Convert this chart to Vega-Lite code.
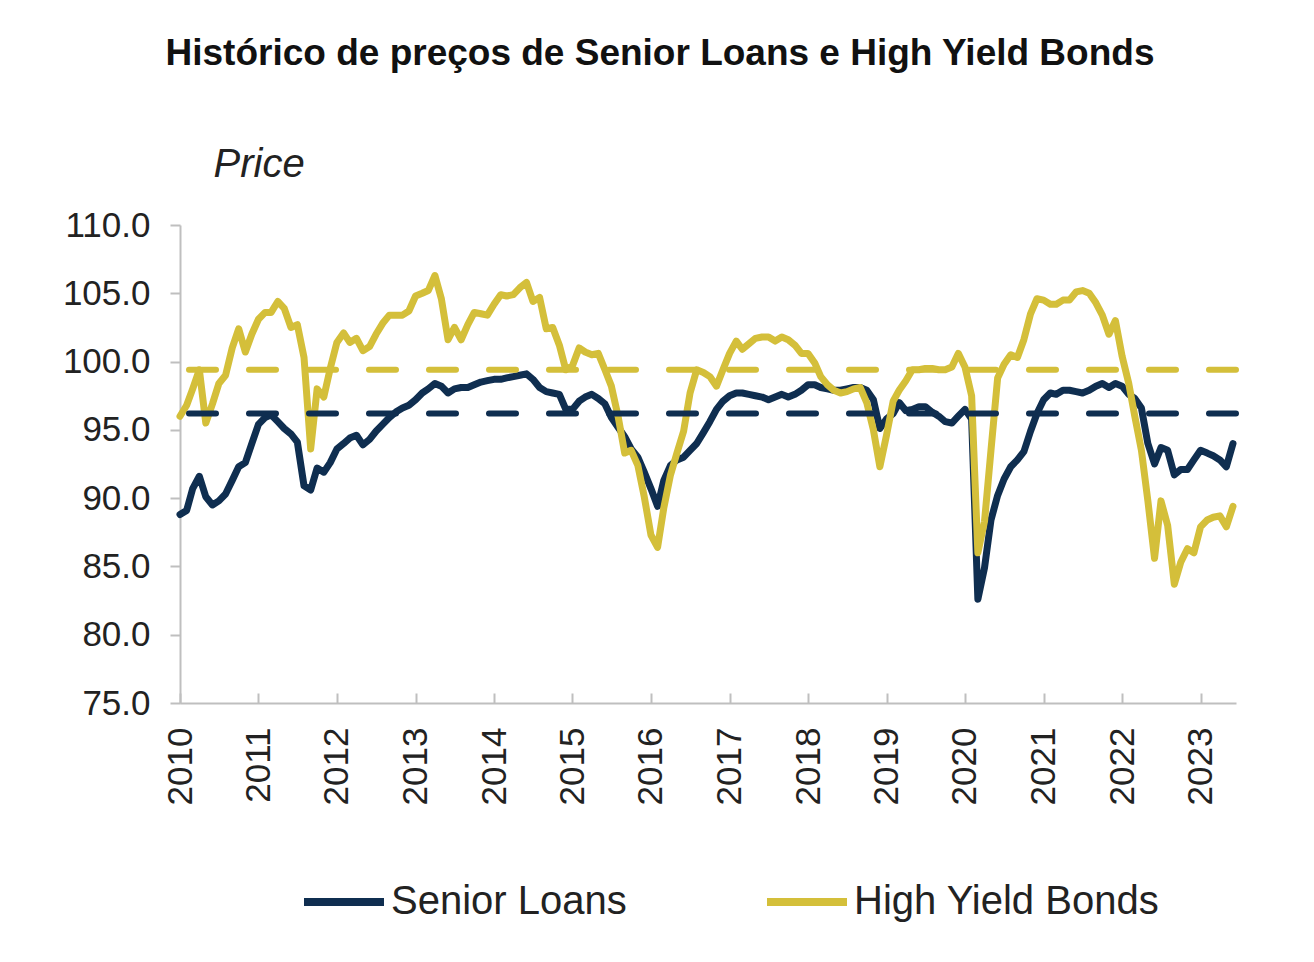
{
  "$schema": "https://vega.github.io/schema/vega-lite/v6.json",
  "width": 1056,
  "height": 478,
  "autosize": {"type": "none"},
  "padding": {"left": 180, "top": 225, "right": 78, "bottom": 259},
  "background": "white",
  "title": {
    "text": "Histórico de preços de Senior Loans e High Yield Bonds",
    "font": "Liberation Sans",
    "fontSize": 37,
    "fontWeight": "bold",
    "color": "#111111",
    "anchor": "middle",
    "frame": "group",
    "dx": -48,
    "offset": 71
  },
  "datasets": {
    "prices": [
      {"date": "2010-01-01", "series": "Senior Loans", "price": 88.8},
      {"date": "2010-02-01", "series": "Senior Loans", "price": 89.1},
      {"date": "2010-03-01", "series": "Senior Loans", "price": 90.7},
      {"date": "2010-04-01", "series": "Senior Loans", "price": 91.6},
      {"date": "2010-05-01", "series": "Senior Loans", "price": 90.1},
      {"date": "2010-06-01", "series": "Senior Loans", "price": 89.5},
      {"date": "2010-07-01", "series": "Senior Loans", "price": 89.8},
      {"date": "2010-08-01", "series": "Senior Loans", "price": 90.3},
      {"date": "2010-09-01", "series": "Senior Loans", "price": 91.3},
      {"date": "2010-10-01", "series": "Senior Loans", "price": 92.3},
      {"date": "2010-11-01", "series": "Senior Loans", "price": 92.6},
      {"date": "2010-12-01", "series": "Senior Loans", "price": 94.0},
      {"date": "2011-01-01", "series": "Senior Loans", "price": 95.4},
      {"date": "2011-02-01", "series": "Senior Loans", "price": 95.9},
      {"date": "2011-03-01", "series": "Senior Loans", "price": 96.1},
      {"date": "2011-04-01", "series": "Senior Loans", "price": 95.6},
      {"date": "2011-05-01", "series": "Senior Loans", "price": 95.1},
      {"date": "2011-06-01", "series": "Senior Loans", "price": 94.7},
      {"date": "2011-07-01", "series": "Senior Loans", "price": 94.1},
      {"date": "2011-08-01", "series": "Senior Loans", "price": 90.9},
      {"date": "2011-09-01", "series": "Senior Loans", "price": 90.6},
      {"date": "2011-10-01", "series": "Senior Loans", "price": 92.2},
      {"date": "2011-11-01", "series": "Senior Loans", "price": 91.9},
      {"date": "2011-12-01", "series": "Senior Loans", "price": 92.6},
      {"date": "2012-01-01", "series": "Senior Loans", "price": 93.6},
      {"date": "2012-02-01", "series": "Senior Loans", "price": 94.0},
      {"date": "2012-03-01", "series": "Senior Loans", "price": 94.4},
      {"date": "2012-04-01", "series": "Senior Loans", "price": 94.6},
      {"date": "2012-05-01", "series": "Senior Loans", "price": 93.9},
      {"date": "2012-06-01", "series": "Senior Loans", "price": 94.3},
      {"date": "2012-07-01", "series": "Senior Loans", "price": 94.9},
      {"date": "2012-08-01", "series": "Senior Loans", "price": 95.4},
      {"date": "2012-09-01", "series": "Senior Loans", "price": 95.9},
      {"date": "2012-10-01", "series": "Senior Loans", "price": 96.3},
      {"date": "2012-11-01", "series": "Senior Loans", "price": 96.6},
      {"date": "2012-12-01", "series": "Senior Loans", "price": 96.8},
      {"date": "2013-01-01", "series": "Senior Loans", "price": 97.2},
      {"date": "2013-02-01", "series": "Senior Loans", "price": 97.7},
      {"date": "2013-03-01", "series": "Senior Loans", "price": 98.0},
      {"date": "2013-04-01", "series": "Senior Loans", "price": 98.4},
      {"date": "2013-05-01", "series": "Senior Loans", "price": 98.2},
      {"date": "2013-06-01", "series": "Senior Loans", "price": 97.7},
      {"date": "2013-07-01", "series": "Senior Loans", "price": 98.0},
      {"date": "2013-08-01", "series": "Senior Loans", "price": 98.1},
      {"date": "2013-09-01", "series": "Senior Loans", "price": 98.1},
      {"date": "2013-10-01", "series": "Senior Loans", "price": 98.3},
      {"date": "2013-11-01", "series": "Senior Loans", "price": 98.5},
      {"date": "2013-12-01", "series": "Senior Loans", "price": 98.6},
      {"date": "2014-01-01", "series": "Senior Loans", "price": 98.7},
      {"date": "2014-02-01", "series": "Senior Loans", "price": 98.7},
      {"date": "2014-03-01", "series": "Senior Loans", "price": 98.8},
      {"date": "2014-04-01", "series": "Senior Loans", "price": 98.9},
      {"date": "2014-05-01", "series": "Senior Loans", "price": 99.0},
      {"date": "2014-06-01", "series": "Senior Loans", "price": 99.1},
      {"date": "2014-07-01", "series": "Senior Loans", "price": 98.7},
      {"date": "2014-08-01", "series": "Senior Loans", "price": 98.1},
      {"date": "2014-09-01", "series": "Senior Loans", "price": 97.8},
      {"date": "2014-10-01", "series": "Senior Loans", "price": 97.7},
      {"date": "2014-11-01", "series": "Senior Loans", "price": 97.6},
      {"date": "2014-12-01", "series": "Senior Loans", "price": 96.5},
      {"date": "2015-01-01", "series": "Senior Loans", "price": 96.5},
      {"date": "2015-02-01", "series": "Senior Loans", "price": 97.1},
      {"date": "2015-03-01", "series": "Senior Loans", "price": 97.4},
      {"date": "2015-04-01", "series": "Senior Loans", "price": 97.6},
      {"date": "2015-05-01", "series": "Senior Loans", "price": 97.3},
      {"date": "2015-06-01", "series": "Senior Loans", "price": 96.9},
      {"date": "2015-07-01", "series": "Senior Loans", "price": 95.9},
      {"date": "2015-08-01", "series": "Senior Loans", "price": 95.2},
      {"date": "2015-09-01", "series": "Senior Loans", "price": 94.5},
      {"date": "2015-10-01", "series": "Senior Loans", "price": 93.6},
      {"date": "2015-11-01", "series": "Senior Loans", "price": 93.0},
      {"date": "2015-12-01", "series": "Senior Loans", "price": 91.9},
      {"date": "2016-01-01", "series": "Senior Loans", "price": 90.7},
      {"date": "2016-02-01", "series": "Senior Loans", "price": 89.4},
      {"date": "2016-03-01", "series": "Senior Loans", "price": 91.3},
      {"date": "2016-04-01", "series": "Senior Loans", "price": 92.4},
      {"date": "2016-05-01", "series": "Senior Loans", "price": 92.8},
      {"date": "2016-06-01", "series": "Senior Loans", "price": 93.0},
      {"date": "2016-07-01", "series": "Senior Loans", "price": 93.5},
      {"date": "2016-08-01", "series": "Senior Loans", "price": 94.0},
      {"date": "2016-09-01", "series": "Senior Loans", "price": 94.8},
      {"date": "2016-10-01", "series": "Senior Loans", "price": 95.6},
      {"date": "2016-11-01", "series": "Senior Loans", "price": 96.5},
      {"date": "2016-12-01", "series": "Senior Loans", "price": 97.1},
      {"date": "2017-01-01", "series": "Senior Loans", "price": 97.5},
      {"date": "2017-02-01", "series": "Senior Loans", "price": 97.7},
      {"date": "2017-03-01", "series": "Senior Loans", "price": 97.7},
      {"date": "2017-04-01", "series": "Senior Loans", "price": 97.6},
      {"date": "2017-05-01", "series": "Senior Loans", "price": 97.5},
      {"date": "2017-06-01", "series": "Senior Loans", "price": 97.4},
      {"date": "2017-07-01", "series": "Senior Loans", "price": 97.2},
      {"date": "2017-08-01", "series": "Senior Loans", "price": 97.4},
      {"date": "2017-09-01", "series": "Senior Loans", "price": 97.6},
      {"date": "2017-10-01", "series": "Senior Loans", "price": 97.4},
      {"date": "2017-11-01", "series": "Senior Loans", "price": 97.6},
      {"date": "2017-12-01", "series": "Senior Loans", "price": 97.9},
      {"date": "2018-01-01", "series": "Senior Loans", "price": 98.3},
      {"date": "2018-02-01", "series": "Senior Loans", "price": 98.3},
      {"date": "2018-03-01", "series": "Senior Loans", "price": 98.1},
      {"date": "2018-04-01", "series": "Senior Loans", "price": 98.0},
      {"date": "2018-05-01", "series": "Senior Loans", "price": 97.9},
      {"date": "2018-06-01", "series": "Senior Loans", "price": 97.9},
      {"date": "2018-07-01", "series": "Senior Loans", "price": 98.0},
      {"date": "2018-08-01", "series": "Senior Loans", "price": 98.1},
      {"date": "2018-09-01", "series": "Senior Loans", "price": 98.1},
      {"date": "2018-10-01", "series": "Senior Loans", "price": 97.9},
      {"date": "2018-11-01", "series": "Senior Loans", "price": 97.2},
      {"date": "2018-12-01", "series": "Senior Loans", "price": 95.1},
      {"date": "2019-01-01", "series": "Senior Loans", "price": 95.8},
      {"date": "2019-02-01", "series": "Senior Loans", "price": 96.2},
      {"date": "2019-03-01", "series": "Senior Loans", "price": 97.0},
      {"date": "2019-04-01", "series": "Senior Loans", "price": 96.4},
      {"date": "2019-05-01", "series": "Senior Loans", "price": 96.5},
      {"date": "2019-06-01", "series": "Senior Loans", "price": 96.7},
      {"date": "2019-07-01", "series": "Senior Loans", "price": 96.7},
      {"date": "2019-08-01", "series": "Senior Loans", "price": 96.3},
      {"date": "2019-09-01", "series": "Senior Loans", "price": 96.0},
      {"date": "2019-10-01", "series": "Senior Loans", "price": 95.6},
      {"date": "2019-11-01", "series": "Senior Loans", "price": 95.5},
      {"date": "2019-12-01", "series": "Senior Loans", "price": 96.0},
      {"date": "2020-01-01", "series": "Senior Loans", "price": 96.5},
      {"date": "2020-02-01", "series": "Senior Loans", "price": 95.8},
      {"date": "2020-03-01", "series": "Senior Loans", "price": 82.6},
      {"date": "2020-04-01", "series": "Senior Loans", "price": 84.9},
      {"date": "2020-05-01", "series": "Senior Loans", "price": 88.4},
      {"date": "2020-06-01", "series": "Senior Loans", "price": 90.2},
      {"date": "2020-07-01", "series": "Senior Loans", "price": 91.4},
      {"date": "2020-08-01", "series": "Senior Loans", "price": 92.3},
      {"date": "2020-09-01", "series": "Senior Loans", "price": 92.8},
      {"date": "2020-10-01", "series": "Senior Loans", "price": 93.4},
      {"date": "2020-11-01", "series": "Senior Loans", "price": 94.9},
      {"date": "2020-12-01", "series": "Senior Loans", "price": 96.2},
      {"date": "2021-01-01", "series": "Senior Loans", "price": 97.2},
      {"date": "2021-02-01", "series": "Senior Loans", "price": 97.7},
      {"date": "2021-03-01", "series": "Senior Loans", "price": 97.6},
      {"date": "2021-04-01", "series": "Senior Loans", "price": 97.9},
      {"date": "2021-05-01", "series": "Senior Loans", "price": 97.9},
      {"date": "2021-06-01", "series": "Senior Loans", "price": 97.8},
      {"date": "2021-07-01", "series": "Senior Loans", "price": 97.7},
      {"date": "2021-08-01", "series": "Senior Loans", "price": 97.9},
      {"date": "2021-09-01", "series": "Senior Loans", "price": 98.2},
      {"date": "2021-10-01", "series": "Senior Loans", "price": 98.4},
      {"date": "2021-11-01", "series": "Senior Loans", "price": 98.1},
      {"date": "2021-12-01", "series": "Senior Loans", "price": 98.4},
      {"date": "2022-01-01", "series": "Senior Loans", "price": 98.2},
      {"date": "2022-02-01", "series": "Senior Loans", "price": 97.6},
      {"date": "2022-03-01", "series": "Senior Loans", "price": 97.3},
      {"date": "2022-04-01", "series": "Senior Loans", "price": 96.6},
      {"date": "2022-05-01", "series": "Senior Loans", "price": 94.0},
      {"date": "2022-06-01", "series": "Senior Loans", "price": 92.5},
      {"date": "2022-07-01", "series": "Senior Loans", "price": 93.7},
      {"date": "2022-08-01", "series": "Senior Loans", "price": 93.5},
      {"date": "2022-09-01", "series": "Senior Loans", "price": 91.7},
      {"date": "2022-10-01", "series": "Senior Loans", "price": 92.1},
      {"date": "2022-11-01", "series": "Senior Loans", "price": 92.1},
      {"date": "2022-12-01", "series": "Senior Loans", "price": 92.8},
      {"date": "2023-01-01", "series": "Senior Loans", "price": 93.5},
      {"date": "2023-02-01", "series": "Senior Loans", "price": 93.3},
      {"date": "2023-03-01", "series": "Senior Loans", "price": 93.1},
      {"date": "2023-04-01", "series": "Senior Loans", "price": 92.8},
      {"date": "2023-05-01", "series": "Senior Loans", "price": 92.3},
      {"date": "2023-06-01", "series": "Senior Loans", "price": 94.0},
      {"date": "2010-01-01", "series": "High Yield Bonds", "price": 96.0},
      {"date": "2010-02-01", "series": "High Yield Bonds", "price": 96.8},
      {"date": "2010-03-01", "series": "High Yield Bonds", "price": 98.0},
      {"date": "2010-04-01", "series": "High Yield Bonds", "price": 99.4},
      {"date": "2010-05-01", "series": "High Yield Bonds", "price": 95.5},
      {"date": "2010-06-01", "series": "High Yield Bonds", "price": 96.9},
      {"date": "2010-07-01", "series": "High Yield Bonds", "price": 98.4},
      {"date": "2010-08-01", "series": "High Yield Bonds", "price": 99.0},
      {"date": "2010-09-01", "series": "High Yield Bonds", "price": 101.0},
      {"date": "2010-10-01", "series": "High Yield Bonds", "price": 102.4},
      {"date": "2010-11-01", "series": "High Yield Bonds", "price": 100.7},
      {"date": "2010-12-01", "series": "High Yield Bonds", "price": 102.0},
      {"date": "2011-01-01", "series": "High Yield Bonds", "price": 103.1},
      {"date": "2011-02-01", "series": "High Yield Bonds", "price": 103.6},
      {"date": "2011-03-01", "series": "High Yield Bonds", "price": 103.6},
      {"date": "2011-04-01", "series": "High Yield Bonds", "price": 104.4},
      {"date": "2011-05-01", "series": "High Yield Bonds", "price": 103.9},
      {"date": "2011-06-01", "series": "High Yield Bonds", "price": 102.5},
      {"date": "2011-07-01", "series": "High Yield Bonds", "price": 102.7},
      {"date": "2011-08-01", "series": "High Yield Bonds", "price": 100.3},
      {"date": "2011-09-01", "series": "High Yield Bonds", "price": 93.6},
      {"date": "2011-10-01", "series": "High Yield Bonds", "price": 98.0},
      {"date": "2011-11-01", "series": "High Yield Bonds", "price": 97.4},
      {"date": "2011-12-01", "series": "High Yield Bonds", "price": 99.5},
      {"date": "2012-01-01", "series": "High Yield Bonds", "price": 101.4},
      {"date": "2012-02-01", "series": "High Yield Bonds", "price": 102.1},
      {"date": "2012-03-01", "series": "High Yield Bonds", "price": 101.4},
      {"date": "2012-04-01", "series": "High Yield Bonds", "price": 101.7},
      {"date": "2012-05-01", "series": "High Yield Bonds", "price": 100.8},
      {"date": "2012-06-01", "series": "High Yield Bonds", "price": 101.1},
      {"date": "2012-07-01", "series": "High Yield Bonds", "price": 102.0},
      {"date": "2012-08-01", "series": "High Yield Bonds", "price": 102.8},
      {"date": "2012-09-01", "series": "High Yield Bonds", "price": 103.4},
      {"date": "2012-10-01", "series": "High Yield Bonds", "price": 103.4},
      {"date": "2012-11-01", "series": "High Yield Bonds", "price": 103.4},
      {"date": "2012-12-01", "series": "High Yield Bonds", "price": 103.7},
      {"date": "2013-01-01", "series": "High Yield Bonds", "price": 104.8},
      {"date": "2013-02-01", "series": "High Yield Bonds", "price": 105.0},
      {"date": "2013-03-01", "series": "High Yield Bonds", "price": 105.2},
      {"date": "2013-04-01", "series": "High Yield Bonds", "price": 106.3},
      {"date": "2013-05-01", "series": "High Yield Bonds", "price": 104.6},
      {"date": "2013-06-01", "series": "High Yield Bonds", "price": 101.6},
      {"date": "2013-07-01", "series": "High Yield Bonds", "price": 102.5},
      {"date": "2013-08-01", "series": "High Yield Bonds", "price": 101.6},
      {"date": "2013-09-01", "series": "High Yield Bonds", "price": 102.7},
      {"date": "2013-10-01", "series": "High Yield Bonds", "price": 103.6},
      {"date": "2013-11-01", "series": "High Yield Bonds", "price": 103.5},
      {"date": "2013-12-01", "series": "High Yield Bonds", "price": 103.4},
      {"date": "2014-01-01", "series": "High Yield Bonds", "price": 104.2},
      {"date": "2014-02-01", "series": "High Yield Bonds", "price": 104.9},
      {"date": "2014-03-01", "series": "High Yield Bonds", "price": 104.8},
      {"date": "2014-04-01", "series": "High Yield Bonds", "price": 104.9},
      {"date": "2014-05-01", "series": "High Yield Bonds", "price": 105.4},
      {"date": "2014-06-01", "series": "High Yield Bonds", "price": 105.8},
      {"date": "2014-07-01", "series": "High Yield Bonds", "price": 104.4},
      {"date": "2014-08-01", "series": "High Yield Bonds", "price": 104.7},
      {"date": "2014-09-01", "series": "High Yield Bonds", "price": 102.4},
      {"date": "2014-10-01", "series": "High Yield Bonds", "price": 102.5},
      {"date": "2014-11-01", "series": "High Yield Bonds", "price": 101.2},
      {"date": "2014-12-01", "series": "High Yield Bonds", "price": 99.4},
      {"date": "2015-01-01", "series": "High Yield Bonds", "price": 99.7},
      {"date": "2015-02-01", "series": "High Yield Bonds", "price": 101.0},
      {"date": "2015-03-01", "series": "High Yield Bonds", "price": 100.7},
      {"date": "2015-04-01", "series": "High Yield Bonds", "price": 100.5},
      {"date": "2015-05-01", "series": "High Yield Bonds", "price": 100.6},
      {"date": "2015-06-01", "series": "High Yield Bonds", "price": 99.4},
      {"date": "2015-07-01", "series": "High Yield Bonds", "price": 98.2},
      {"date": "2015-08-01", "series": "High Yield Bonds", "price": 96.0},
      {"date": "2015-09-01", "series": "High Yield Bonds", "price": 93.3},
      {"date": "2015-10-01", "series": "High Yield Bonds", "price": 93.5},
      {"date": "2015-11-01", "series": "High Yield Bonds", "price": 92.4},
      {"date": "2015-12-01", "series": "High Yield Bonds", "price": 90.1},
      {"date": "2016-01-01", "series": "High Yield Bonds", "price": 87.3},
      {"date": "2016-02-01", "series": "High Yield Bonds", "price": 86.4},
      {"date": "2016-03-01", "series": "High Yield Bonds", "price": 89.3},
      {"date": "2016-04-01", "series": "High Yield Bonds", "price": 91.7},
      {"date": "2016-05-01", "series": "High Yield Bonds", "price": 93.3},
      {"date": "2016-06-01", "series": "High Yield Bonds", "price": 94.9},
      {"date": "2016-07-01", "series": "High Yield Bonds", "price": 97.7},
      {"date": "2016-08-01", "series": "High Yield Bonds", "price": 99.4},
      {"date": "2016-09-01", "series": "High Yield Bonds", "price": 99.2},
      {"date": "2016-10-01", "series": "High Yield Bonds", "price": 98.9},
      {"date": "2016-11-01", "series": "High Yield Bonds", "price": 98.2},
      {"date": "2016-12-01", "series": "High Yield Bonds", "price": 99.4},
      {"date": "2017-01-01", "series": "High Yield Bonds", "price": 100.6},
      {"date": "2017-02-01", "series": "High Yield Bonds", "price": 101.5},
      {"date": "2017-03-01", "series": "High Yield Bonds", "price": 100.9},
      {"date": "2017-04-01", "series": "High Yield Bonds", "price": 101.3},
      {"date": "2017-05-01", "series": "High Yield Bonds", "price": 101.7},
      {"date": "2017-06-01", "series": "High Yield Bonds", "price": 101.8},
      {"date": "2017-07-01", "series": "High Yield Bonds", "price": 101.8},
      {"date": "2017-08-01", "series": "High Yield Bonds", "price": 101.5},
      {"date": "2017-09-01", "series": "High Yield Bonds", "price": 101.8},
      {"date": "2017-10-01", "series": "High Yield Bonds", "price": 101.6},
      {"date": "2017-11-01", "series": "High Yield Bonds", "price": 101.2},
      {"date": "2017-12-01", "series": "High Yield Bonds", "price": 100.6},
      {"date": "2018-01-01", "series": "High Yield Bonds", "price": 100.6},
      {"date": "2018-02-01", "series": "High Yield Bonds", "price": 99.9},
      {"date": "2018-03-01", "series": "High Yield Bonds", "price": 98.9},
      {"date": "2018-04-01", "series": "High Yield Bonds", "price": 98.3},
      {"date": "2018-05-01", "series": "High Yield Bonds", "price": 97.9},
      {"date": "2018-06-01", "series": "High Yield Bonds", "price": 97.7},
      {"date": "2018-07-01", "series": "High Yield Bonds", "price": 97.8},
      {"date": "2018-08-01", "series": "High Yield Bonds", "price": 98.0},
      {"date": "2018-09-01", "series": "High Yield Bonds", "price": 98.1},
      {"date": "2018-10-01", "series": "High Yield Bonds", "price": 97.0},
      {"date": "2018-11-01", "series": "High Yield Bonds", "price": 95.0},
      {"date": "2018-12-01", "series": "High Yield Bonds", "price": 92.3},
      {"date": "2019-01-01", "series": "High Yield Bonds", "price": 94.6},
      {"date": "2019-02-01", "series": "High Yield Bonds", "price": 97.1},
      {"date": "2019-03-01", "series": "High Yield Bonds", "price": 97.9},
      {"date": "2019-04-01", "series": "High Yield Bonds", "price": 98.6},
      {"date": "2019-05-01", "series": "High Yield Bonds", "price": 99.4},
      {"date": "2019-06-01", "series": "High Yield Bonds", "price": 99.4},
      {"date": "2019-07-01", "series": "High Yield Bonds", "price": 99.5},
      {"date": "2019-08-01", "series": "High Yield Bonds", "price": 99.5},
      {"date": "2019-09-01", "series": "High Yield Bonds", "price": 99.4},
      {"date": "2019-10-01", "series": "High Yield Bonds", "price": 99.4},
      {"date": "2019-11-01", "series": "High Yield Bonds", "price": 99.6},
      {"date": "2019-12-01", "series": "High Yield Bonds", "price": 100.6},
      {"date": "2020-01-01", "series": "High Yield Bonds", "price": 99.6},
      {"date": "2020-02-01", "series": "High Yield Bonds", "price": 97.5},
      {"date": "2020-03-01", "series": "High Yield Bonds", "price": 86.0},
      {"date": "2020-04-01", "series": "High Yield Bonds", "price": 88.3},
      {"date": "2020-05-01", "series": "High Yield Bonds", "price": 93.5},
      {"date": "2020-06-01", "series": "High Yield Bonds", "price": 98.8},
      {"date": "2020-07-01", "series": "High Yield Bonds", "price": 99.8},
      {"date": "2020-08-01", "series": "High Yield Bonds", "price": 100.5},
      {"date": "2020-09-01", "series": "High Yield Bonds", "price": 100.3},
      {"date": "2020-10-01", "series": "High Yield Bonds", "price": 101.6},
      {"date": "2020-11-01", "series": "High Yield Bonds", "price": 103.5},
      {"date": "2020-12-01", "series": "High Yield Bonds", "price": 104.6},
      {"date": "2021-01-01", "series": "High Yield Bonds", "price": 104.5},
      {"date": "2021-02-01", "series": "High Yield Bonds", "price": 104.2},
      {"date": "2021-03-01", "series": "High Yield Bonds", "price": 104.2},
      {"date": "2021-04-01", "series": "High Yield Bonds", "price": 104.5},
      {"date": "2021-05-01", "series": "High Yield Bonds", "price": 104.5},
      {"date": "2021-06-01", "series": "High Yield Bonds", "price": 105.1},
      {"date": "2021-07-01", "series": "High Yield Bonds", "price": 105.2},
      {"date": "2021-08-01", "series": "High Yield Bonds", "price": 105.0},
      {"date": "2021-09-01", "series": "High Yield Bonds", "price": 104.3},
      {"date": "2021-10-01", "series": "High Yield Bonds", "price": 103.4},
      {"date": "2021-11-01", "series": "High Yield Bonds", "price": 102.0},
      {"date": "2021-12-01", "series": "High Yield Bonds", "price": 103.0},
      {"date": "2022-01-01", "series": "High Yield Bonds", "price": 100.4},
      {"date": "2022-02-01", "series": "High Yield Bonds", "price": 98.4},
      {"date": "2022-03-01", "series": "High Yield Bonds", "price": 96.0},
      {"date": "2022-04-01", "series": "High Yield Bonds", "price": 93.5},
      {"date": "2022-05-01", "series": "High Yield Bonds", "price": 89.8},
      {"date": "2022-06-01", "series": "High Yield Bonds", "price": 85.6},
      {"date": "2022-07-01", "series": "High Yield Bonds", "price": 89.8},
      {"date": "2022-08-01", "series": "High Yield Bonds", "price": 88.0},
      {"date": "2022-09-01", "series": "High Yield Bonds", "price": 83.7},
      {"date": "2022-10-01", "series": "High Yield Bonds", "price": 85.3},
      {"date": "2022-11-01", "series": "High Yield Bonds", "price": 86.3},
      {"date": "2022-12-01", "series": "High Yield Bonds", "price": 86.0},
      {"date": "2023-01-01", "series": "High Yield Bonds", "price": 87.9},
      {"date": "2023-02-01", "series": "High Yield Bonds", "price": 88.4},
      {"date": "2023-03-01", "series": "High Yield Bonds", "price": 88.6},
      {"date": "2023-04-01", "series": "High Yield Bonds", "price": 88.7},
      {"date": "2023-05-01", "series": "High Yield Bonds", "price": 87.9},
      {"date": "2023-06-01", "series": "High Yield Bonds", "price": 89.4}
    ],
    "averages": [
      {"series": "Senior Loans", "avg": 96.2},
      {"series": "High Yield Bonds", "avg": 99.4}
    ]
  },
  "layer": [
    {
      "data": {"name": "prices"},
      "mark": {"type": "line", "strokeWidth": 7, "strokeJoin": "round", "strokeCap": "round"},
      "encoding": {
        "x": {
          "field": "date",
          "type": "temporal",
          "scale": {"type": "utc", "domain": ["2010-01-01", "2023-06-15"]},
          "axis": {
            "title": null,
            "format": "%Y",
            "tickCount": {"interval": "year", "step": 1},
            "labelAngle": -90,
            "labelFontSize": 35,
            "labelPadding": 34,
            "tickSize": -10,
            "labelFlush": false,
            "labelOverlap": false
          }
        },
        "y": {
          "field": "price",
          "type": "quantitative",
          "scale": {"domain": [75, 110], "nice": false, "zero": false},
          "axis": {
            "values": [75, 80, 85, 90, 95, 100, 105, 110],
            "format": ".1f",
            "title": "Price",
            "titleFont": "Liberation Sans",
            "titleFontStyle": "italic",
            "titleFontWeight": "normal",
            "titleFontSize": 40,
            "titleColor": "#222222",
            "titleAngle": 0,
            "titleAlign": "left",
            "titleBaseline": "middle",
            "titleX": 33,
            "titleY": -61,
            "labelFontSize": 35,
            "labelPadding": 20,
            "tickSize": 10
          }
        },
        "color": {
          "field": "series",
          "type": "nominal",
          "sort": ["Senior Loans", "High Yield Bonds"],
          "scale": {"domain": ["Senior Loans", "High Yield Bonds"], "range": ["#0f2e50", "#d4bf3a"]},
          "legend": {
            "title": null,
            "orient": "none",
            "legendX": 120,
            "legendY": 633,
            "direction": "horizontal",
            "symbolType": "stroke",
            "symbolSize": 6400,
            "symbolStrokeWidth": 8,
            "labelFont": "Liberation Sans",
            "labelFontSize": 40,
            "labelColor": "#222222",
            "labelOffset": 3,
            "columnPadding": 124,
            "labelLimit": 600
          }
        }
      }
    },
    {
      "data": {"name": "averages"},
      "mark": {"type": "rule", "strokeWidth": 6, "strokeDash": [27, 33], "strokeCap": "round"},
      "encoding": {
        "y": {"field": "avg", "type": "quantitative"},
        "color": {
          "field": "series",
          "type": "nominal",
          "scale": {"domain": ["Senior Loans", "High Yield Bonds"], "range": ["#0f2e50", "#d4bf3a"]},
          "legend": null
        }
      }
    }
  ],
  "resolve": {"scale": {"color": "independent"}},
  "config": {
    "view": {"stroke": null},
    "axis": {
      "labelFont": "Liberation Sans",
      "labelColor": "#222222",
      "domainColor": "#bfbfbf",
      "domainWidth": 2,
      "tickColor": "#bfbfbf",
      "tickWidth": 2,
      "grid": false
    }
  }
}
